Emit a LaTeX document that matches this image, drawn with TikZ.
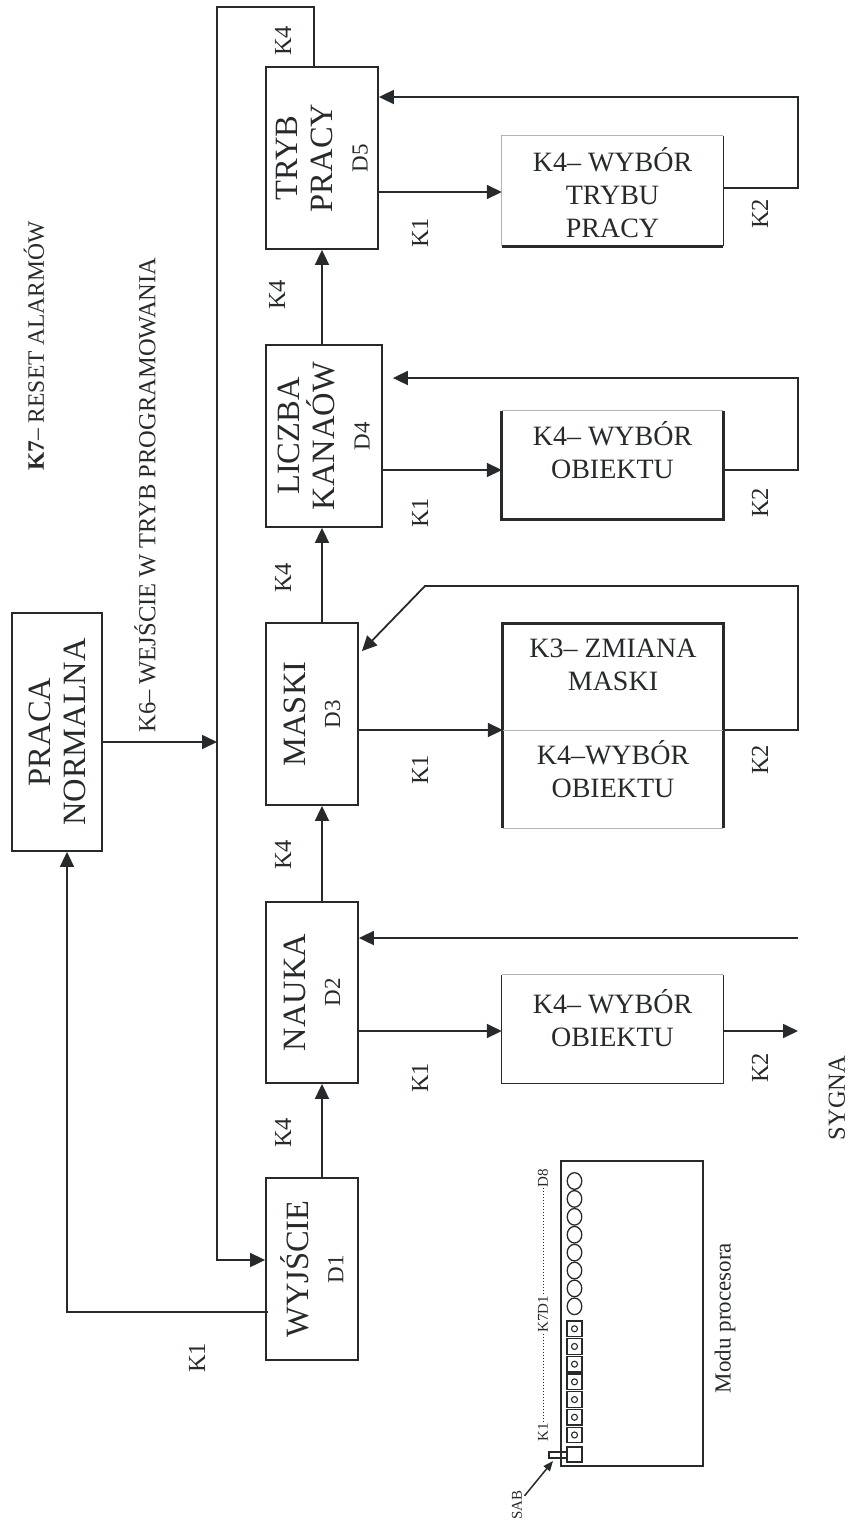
\documentclass[tikz,border=0pt]{standalone}
\usepackage{fontspec}
\setmainfont{Liberation Serif}
\usetikzlibrary{arrows.meta}
\definecolor{ink}{RGB}{38,42,44}
\begin{document}
\begin{tikzpicture}[x=1pt,y=-1pt,
 ln/.style={draw=ink,line width=1.8pt},
 arr/.style={ln,-{Triangle[length=15pt,width=14pt]}},
 sarr/.style={draw=ink,line width=1.5pt,-{Triangle[length=10pt,width=8pt]}},
 box/.style={draw=ink,line width=1.8pt,inner sep=0pt},
 frame/.style={inner sep=0pt},
 rtxt/.style={rotate=90,text=ink,inner sep=0pt,align=center},
 big/.style={font=\fontsize{32.5}{35}\selectfont},
 lab/.style={rtxt,font=\fontsize{24.5}{28}\selectfont},
 htxt/.style={text=ink,inner sep=0pt,align=center,font=\fontsize{28}{33}\selectfont},
 thick edge/.style={draw=ink,line width=2.8pt},
 thin edge/.style={draw=black!30,line width=0.8pt},
 mid edge/.style={draw=ink,line width=1.1pt},
 tiny/.style={rotate=90,text=ink,inner sep=1pt,font=\fontsize{15}{17}\selectfont},
 part/.style={draw=ink,line width=1.3pt}
]
\useasboundingbox (0,0) rectangle (850,1524);

% ---------- left column boxes ----------
\node[box,minimum width=90pt,minimum height=238pt] (praca) at (57,732) {};
\node[rtxt,big] (pracat) at (praca) {PRACA\\NORMALNA};

\node[box,minimum width=92pt,minimum height=182pt] (d1) at (312,1269) {};
\node[rtxt,big] (d1t) at (d1) {WYJŚCIE\\{\fontsize{23}{26}\selectfont D1}};

\node[box,minimum width=92pt,minimum height=181pt] (d2) at (312,992.5) {};
\node[rtxt,big] (d2t) at (d2) {NAUKA\\{\fontsize{23}{26}\selectfont D2}};

\node[box,minimum width=92pt,minimum height=182pt] (d3) at (312,714) {};
\node[rtxt,big] (d3t) at (d3) {MASKI\\{\fontsize{23}{26}\selectfont D3}};

\node[box,minimum width=116pt,minimum height=182pt] (d4) at (324,436) {};
\node[rtxt,big] (d4t) at (d4) {LICZBA\\KANAÓW\\{\fontsize{23}{26}\selectfont D4}};

\node[box,minimum width=112pt,minimum height=182pt] (d5) at (322,158) {};
\node[rtxt,big] (d5t) at (d5) {TRYB\\PRACY\\{\fontsize{23}{26}\selectfont D5}};

% ---------- right column boxes ----------
\node[frame,minimum width=221pt,minimum height=110pt] (w5) at (612.5,191) {};
\node[htxt] (w5t) at (612.5,193) {K4– WYBÓR\\TRYBU\\PRACY};
\draw[thin edge] (w5.south west) -- (w5.north west) -- (w5.north east);
\draw[mid edge] (w5.north east) -- (w5.south east);
\draw[thick edge] (w5.south west) -- (w5.south east);

\node[frame,minimum width=221pt,minimum height=108pt] (w4) at (612.5,465) {};
\node[htxt] (w4t) at (612.5,450) {K4– WYBÓR\\OBIEKTU};
\draw[thin edge] (w4.north west) -- (w4.north east);
\draw[thick edge] (w4.north west) -- (w4.south west) -- (w4.south east) -- (w4.north east);

\node[frame,minimum width=220pt,minimum height=204pt] (w3) at (613,726) {};
\node[htxt] (w3a) at (613,665) {K3– ZMIANA\\MASKI};
\node[htxt] (w3b) at (613,769) {K4–WYBÓR\\OBIEKTU};
\draw[thin edge] (w3.south west) -- (w3.south east);
\draw[thick edge] (w3.south west) -- (w3.north west) -- (w3.north east) -- (w3.south east);

\node[frame,minimum width=221pt,minimum height=108pt] (w2) at (612.5,1029) {};
\node[htxt] (w2t) at (612.5,1018) {K4– WYBÓR\\OBIEKTU};
\draw[thin edge] (w2.north west) -- (w2.north east);
\draw[mid edge] (w2.north west) -- (w2.south west) -- (w2.south east) -- (w2.north east);

% ---------- helper coordinates ----------
\coordinate (xcol) at (322,0);
\coordinate (k1e) at (0,192);
\coordinate (k1d) at (0,470);
\coordinate (k1c) at (0,730);
\coordinate (k1b) at (0,1031);
\coordinate (r5a) at (798,188);
\coordinate (r5b) at (798,97);
\coordinate (r4a) at (798,470);
\coordinate (r4b) at (798,378);
\coordinate (r3a) at (798,730);
\coordinate (r3b) at (798,586);
\coordinate (r3c) at (425,586);
\coordinate (n2) at (798,938);
\coordinate (sig) at (798,1031);
\coordinate (t1) at (314,7);
\coordinate (t2) at (217,7);
\coordinate (t3) at (217,1260);
\coordinate (pj) at (217,742);
\coordinate (b1) at (67,1312);

\draw[thin edge] (w3.west |- k1c) -- (w3.east |- k1c);

% ---------- connectors ----------
\draw[arr] (d1.north -| xcol) -- (d2.south -| xcol);
\draw[arr] (d2.north -| xcol) -- (d3.south -| xcol);
\draw[arr] (d3.north -| xcol) -- (d4.south -| xcol);
\draw[arr] (d4.north -| xcol) -- (d5.south -| xcol);

\draw[arr] (d5.east |- k1e) -- (w5.west |- k1e);
\draw[arr] (d4.east |- k1d) -- (w4.west |- k1d);
\draw[arr] (d3.east |- k1c) -- (w3.west |- k1c);
\draw[arr] (d2.east |- k1b) -- (w2.west |- k1b);
\draw[arr] (w2.east |- k1b) -- (sig);

\draw[arr] (w5.east |- r5a) -- (r5a) -- (r5b) -- (d5.east |- r5b);
\draw[arr] (w4.east |- r4a) -- (r4a) -- (r4b) -- ([xshift=10pt]d4.east |- r4b);
\draw[arr] (w3.east |- r3a) -- (r3a) -- (r3b) -- (r3c) -- ([shift={(3pt,-29pt)}]d3.north east);
\draw[arr] (n2) -- (d2.east |- n2);

\draw[arr] (d5.north -| t1) -- (t1) -- (t2) -- (t3) -- (d1.west |- t3);
\draw[arr] (praca.east |- pj) -- (pj);
\draw[arr] ([xshift=3pt]d1.west |- b1) -- (b1) -- (praca.south -| b1);

% ---------- labels ----------
\node[rtxt,font=\fontsize{23.5}{27}\selectfont] (k7) at (34,346) {\textbf{K7}– RESET ALARMÓW};
\node[lab] (k6) at (145,495) {K6– WEJŚCIE W TRYB PROGRAMOWANIA};

\node[lab] (k4a) at (283,41) {K4};
\node[lab] (k4b) at (277,295) {K4};
\node[lab] (k4c) at (283,578) {K4};
\node[lab] (k4d) at (283,855) {K4};
\node[lab] (k4e) at (283,1133) {K4};

\node[lab] (k1a) at (420,233) {K1};
\node[lab] (k1bl) at (420,513) {K1};
\node[lab] (k1cl) at (420,770) {K1};
\node[lab] (k1dl) at (420,1078) {K1};
\node[lab] (k1el) at (197,1358) {K1};

\node[lab] (k2a) at (760,214) {K2};
\node[lab] (k2b) at (760,503) {K2};
\node[lab] (k2c) at (760,760) {K2};
\node[lab] (k2d) at (760,1068) {K2};
\node[lab] (sygna) at (837,1098) {SYGNA};

% ---------- processor module ----------
\node[box,minimum width=142pt,minimum height=305pt] (proc) at (632,1313.5) {};
\foreach \i in {0,...,7}
  \draw[part] (574.5,1181+17.9*\i) ellipse [x radius=7.3pt, y radius=8.3pt];
\foreach \i in {0,...,6} {
  \draw[part] (567,1321+17.7*\i) rectangle ++(15,15.5);
  \draw[part,line width=1.1pt] (574.5,1328.75+17.7*\i) circle [radius=3pt];
}
\draw[part] (567,1447) rectangle (582,1462);
\draw[part] (549,1452) rectangle (567,1458);

\node[tiny] (d8l) at (543,1178) {D8};
\node[tiny] (k7l) at (543,1314) {K7D1};
\node[tiny] (k1l) at (543,1432) {K1};
\draw[ink,dotted,line width=1pt] (d8l) -- (k7l);
\draw[ink,dotted,line width=1pt] (k7l) -- (k1l);

\node[tiny] (sab) at (517,1505) {SAB};
\coordinate (lever) at (553,1461);
\draw[sarr,shorten <=2pt] (sab) -- (lever);

\node[rtxt,font=\fontsize{23}{26}\selectfont] (modu) at (725,1318) {Modu procesora};
\end{tikzpicture}
\end{document}
